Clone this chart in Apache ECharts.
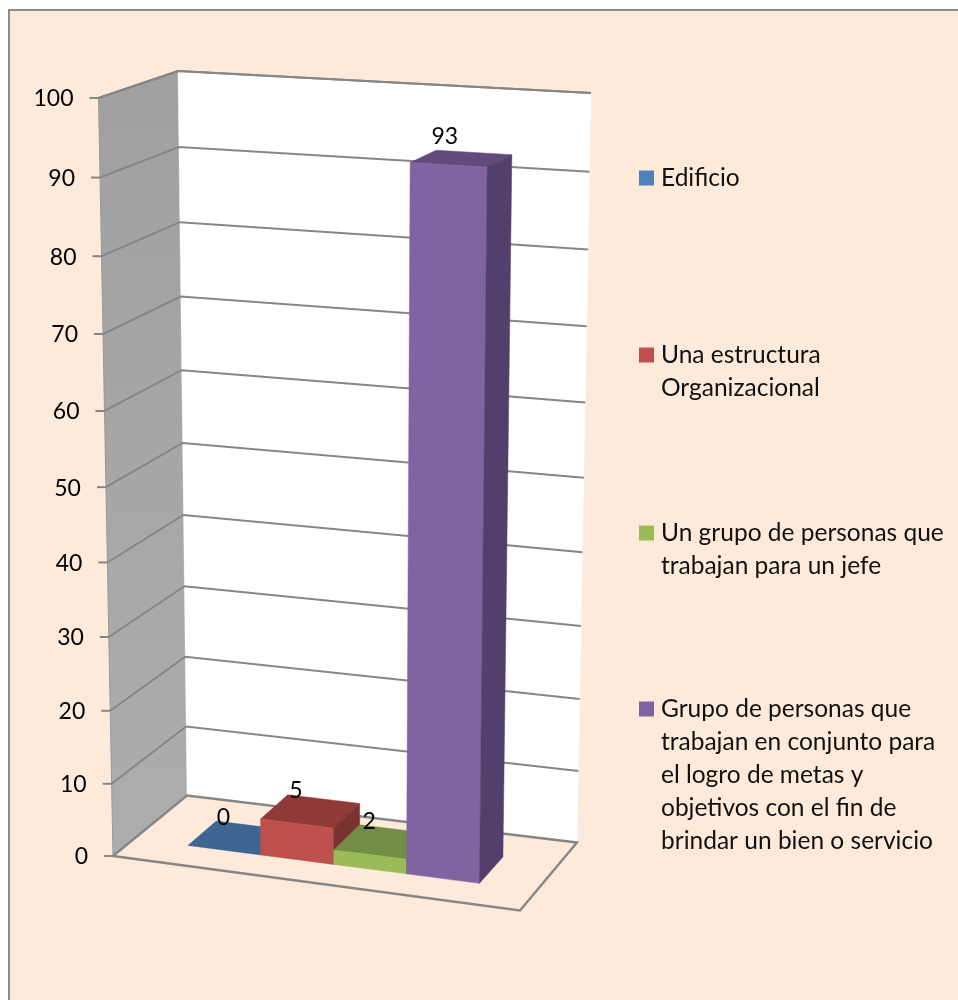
<!DOCTYPE html>
<html>
<head>
<meta charset="utf-8">
<script src="https://cdn.jsdelivr.net/npm/echarts@6/dist/echarts.min.js"></script>
<style>html,body{margin:0;padding:0;background:#fff}#c{width:958px;height:1000px}</style>
</head>
<body>
<div id="c"></div>
<script>
const seriesNames = ['Edificio', 'Una estructura\nOrganizacional', 'Un grupo de personas que\ntrabajan para un jefe', 'Grupo de personas que\ntrabajan en conjunto para\nel logro de metas y\nobjetivos con el fin de\nbrindar un bien o servicio'];
const seriesValues = [0, 5, 2, 93];
const valueTicks = [0, 10, 20, 30, 40, 50, 60, 70, 80, 90, 100];
const frontColors = ['#4F81BD', '#C0504D', '#9BBB59', '#8064A2'];
const topColors = ['#3E6594', '#8F3A38', '#748C43', '#604B7A'];
const sideColors = ['#345579', '#7A3130', '#627639', '#533F6C'];
const legendCenters = [178, 355, 533, 709];

const FONT = 'Lato';
const LINE = '#868686';
// Corners of the drawn box on the page: floor and ceiling, front and back
const box = {
  bfl: [113, 856], bfr: [520, 910.5], bbl: [187, 795.5], bbr: [577, 842.5],
  tfl: [98.5, 98], tfr: [531, 122], tbl: [178, 71], tbr: [591, 93]
};
const PERSPECTIVE = 1.055;
const U0 = 0.133, U1 = 0.858, W0 = 0.29, W1 = 0.685;

function lerp(a, b, t) { return [a[0] + (b[0] - a[0]) * t, a[1] + (b[1] - a[1]) * t]; }
function warp(v) { return v / (v + PERSPECTIVE * (1 - v)); }
function project(u, v, w) {
  const t = warp(v);
  const floor = lerp(lerp(box.bfl, box.bfr, u), lerp(box.bbl, box.bbr, u), w);
  const ceil = lerp(lerp(box.tfl, box.tfr, u), lerp(box.tbl, box.tbr, u), w);
  return lerp(floor, ceil, t);
}
function poly(points, fill, z2) {
  return { type: 'polygon', shape: { points: points }, style: { fill: fill, stroke: fill, lineWidth: 0.5 }, z2: z2 || 0 };
}
function stroke(points, color, width, z2) {
  return { type: 'polyline', shape: { points: points }, style: { fill: 'none', stroke: color, lineWidth: width }, z2: z2 || 0 };
}
function normV(api, params, val) {
  const r = params.coordSys;
  return (r.y + r.height - api.coord([0, val])[1]) / r.height;
}

function renderFrame() {
  const wall = [box.tfl, box.tbl, box.bbl, box.bfl];
  return {
    type: 'group',
    children: [
      { type: 'polygon', shape: { points: wall },
        style: { fill: new echarts.graphic.LinearGradient(0, 0, 0, 1, [{ offset: 0, color: '#A0A0A0' }, { offset: 1, color: '#ADADAD' }]), stroke: '#9A9A9A', lineWidth: 1 } },
      poly([box.tbl, box.tbr, box.bbr, box.bbl], '#FFFFFF'),
      { type: 'polygon', shape: { points: [box.bfl, box.bfr, box.bbr, box.bbl] }, style: { fill: '#FDEADA', stroke: LINE, lineWidth: 2.4 }, z2: 1 },
      stroke([box.tfl, box.tbl, box.tbr], LINE, 2, 2)
    ]
  };
}
function renderTick(params, api) {
  const val = api.value(0);
  const v = normV(api, params, val);
  const front = project(0, v, 0), back = project(0, v, 1), right = project(1, v, 1);
  const kids = [
    stroke([[front[0] - 9, front[1]], front], LINE, 2, 3),
    { type: 'text', x: front[0] - 25, y: front[1] + 1, z2: 3,
      style: { text: String(val), fill: '#000', font: '23px ' + FONT, align: 'right', verticalAlign: 'middle' } }
  ];
  if (val > 0) kids.push(stroke([front, back, right], LINE, 2, 2));
  return { type: 'group', children: kids };
}
function renderBar(index) {
  return function (params, api) {
    const r = params.coordSys;
    const cx = api.coord([api.value(0), 0])[0];
    const half = api.size([1, 0])[0] / 2;
    const toU = x => U0 + (x - r.x) / r.width * (U1 - U0);
    const a = toU(cx - half), b = toU(cx + half);
    const val = api.value(1);
    const v = normV(api, params, val);
    const kids = [];
    kids.push(poly([project(a, v, W0), project(b, v, W0), project(b, v, W1), project(a, v, W1)], topColors[index], 5));
    if (val > 0) {
      kids.push(poly([project(a, 0, W0), project(b, 0, W0), project(b, v, W0), project(a, v, W0)], frontColors[index], 5));
      kids.push(poly([project(b, 0, W0), project(b, 0, W1), project(b, v, W1), project(b, v, W0)], sideColors[index], 5));
    }
    const top = project((a + b) / 2, v, W0);
    kids.push({ type: 'text', x: top[0] - 1 - 3 * v, y: top[1] - 33 + 5 * v, z2: 20,
      style: { text: String(val), fill: '#000', font: '23px ' + FONT, align: 'center', verticalAlign: 'middle' } });
    return { type: 'group', children: kids };
  };
}

const series = [
  { type: 'custom', name: '__frame', data: [[0]], renderItem: renderFrame, silent: true, z: 1, clip: false },
  { type: 'custom', name: '__ticks', data: valueTicks.map(t => [t]), encode: { y: 0 }, renderItem: renderTick, silent: true, z: 2, clip: false }
];
seriesNames.forEach((name, i) => {
  series.push({
    type: 'custom', name: name, z: 3, clip: false, silent: true,
    itemStyle: { color: frontColors[i] },
    data: [[i, seriesValues[i]]],
    encode: { x: 0, y: 1 },
    renderItem: renderBar(i)
  });
});

const LEGEND_LINE = 33;
const legends = seriesNames.map((name, i) => {
  const h = LEGEND_LINE * name.split('\n').length;
  return {
    data: [name], left: 639, top: legendCenters[i] - LEGEND_LINE / 2, orient: 'vertical', padding: 0,
    selectedMode: false, itemWidth: 17, itemHeight: h,
    icon: 'path://M0 9h15v15h-15z M17 0l0 0.01 M17 ' + h + 'l0 -0.01',
    textStyle: { fontFamily: FONT, fontSize: 24.5, lineHeight: LEGEND_LINE, color: '#111' }
  };
});

const chart = echarts.init(document.getElementById('c'), null, { renderer: 'canvas' });
chart.setOption({
  animation: false,
  backgroundColor: 'transparent',
  tooltip: { show: false },
  graphic: [{ type: 'rect', silent: true, z: -10, shape: { x: 9, y: 10, width: 1000, height: 1050 },
    style: { fill: '#FDEADA', stroke: '#8C8C8C', lineWidth: 2 } }],
  legend: legends,
  grid: { left: 100, top: 98, width: 400, height: 757 },
  xAxis: { type: 'category', data: [0, 1, 2, 3], show: false },
  yAxis: { type: 'value', min: 0, max: 100, interval: 10, show: false },
  series: series
});
</script>
</body>
</html>
